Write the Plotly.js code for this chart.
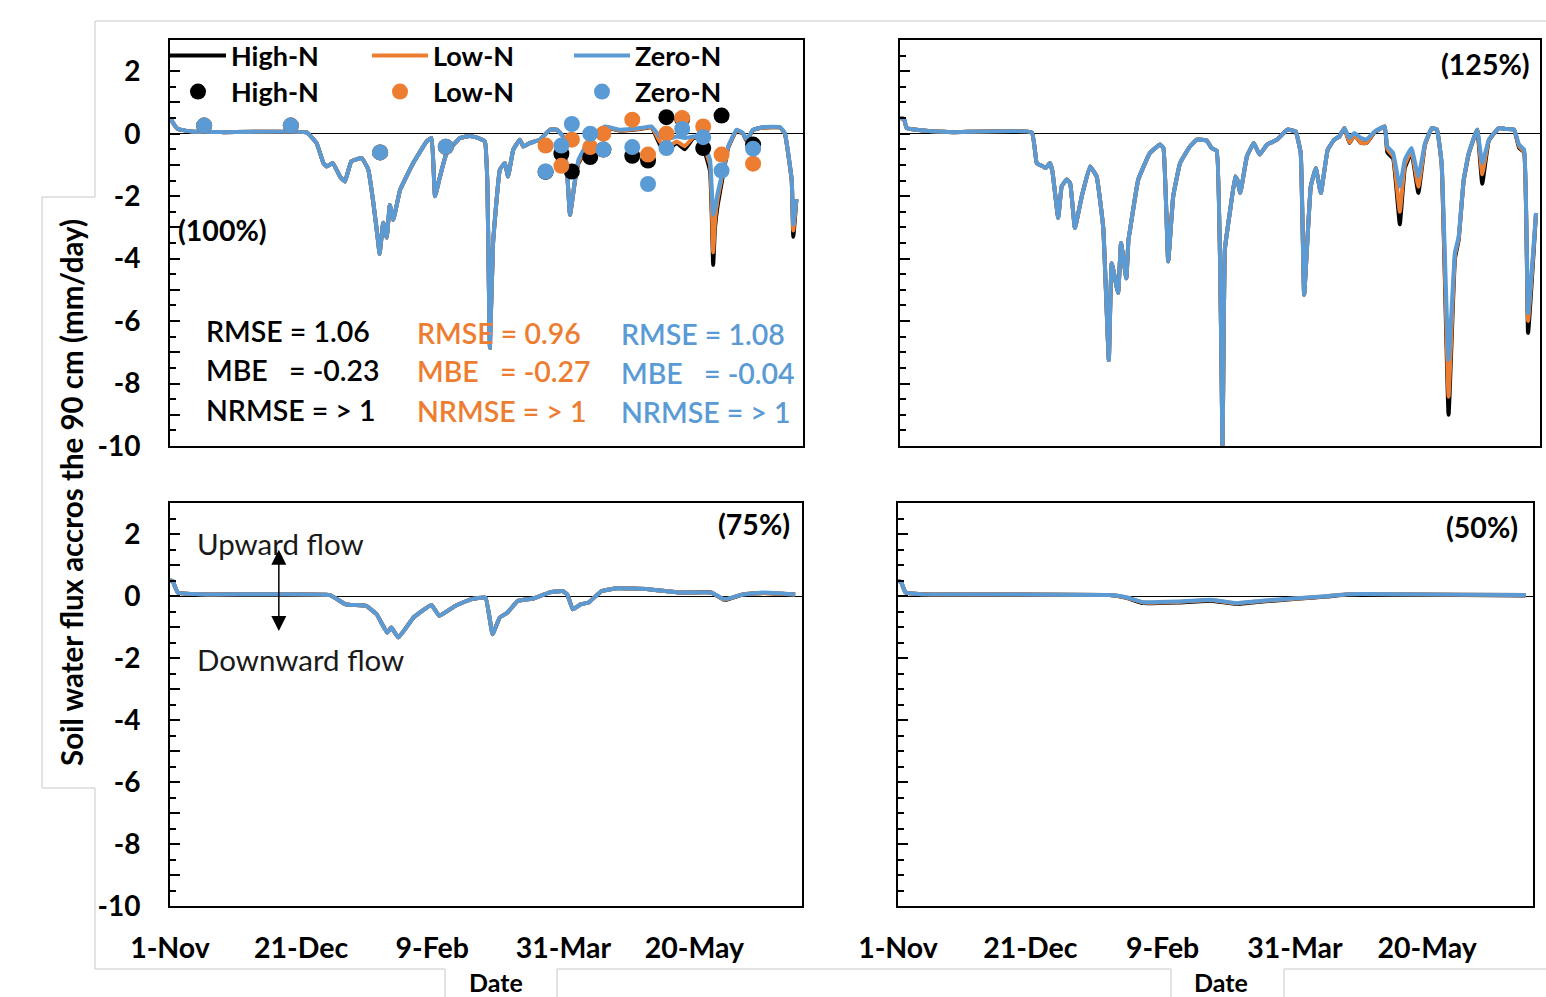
<!DOCTYPE html>
<html><head><meta charset="utf-8">
<script src="https://cdn.plot.ly/plotly-3.0.1.min.js"></script>
<style>html,body{margin:0;padding:0;background:#fff}</style>
</head><body>
<div id="chart" style="width:1546px;height:997px"></div>
<script>
// ---------- axis labels ----------
const tickDays = [0, 50, 100, 150, 200];
const tickLabels = ['1-Nov', '21-Dec', '9-Feb', '31-Mar', '20-May'];
const yTickVals = [-10, -9, -8, -7, -6, -5, -4, -3, -2, -1, 0, 1, 2];
const yTickText = ['-10', '', '-8', '', '-6', '', '-4', '', '-2', '', '0', '', '2'];
const seriesNames = ['High-N', 'Low-N', 'Zero-N'];

// ---------- 100% irrigation (days since 1-Nov) ----------
const days100 = [0, 1.5, 3, 8, 20, 52, 55.8, 58.4, 59.6, 62, 64.7, 66.6, 69, 73, 75.5, 77.4, 79.3, 79.8, 81.2, 82.5, 83.7, 85, 87.6, 92.6, 97.7, 99.6, 100.9, 102.8, 105.3, 110.4, 114.2, 117.4, 119.9, 120.8, 121.8, 123, 125.6, 127.5, 128.7, 130.7, 133.2, 134.5, 137, 140.8, 144.7, 147.2, 149.7, 151.3, 152.3, 154.2, 155.5, 158.6, 161.8, 165.6, 171.3, 178.9, 183.4, 186.5, 189, 192.9, 196, 199.2, 201.7, 205.6, 206.8, 207.5, 208.5, 210.6, 212.5, 215.7, 218.2, 219.5, 222, 225.8, 232.2, 234.1, 236.7, 237.3, 238.5];
const high100 = [0.5, 0.3, 0.15, 0.07, 0.05, 0.04, -0.3, -0.94, -1.05, -0.94, -1.37, -1.53, -0.89, -0.78, -1.15, -2.2, -3.5, -3.85, -2.85, -3.33, -2.28, -2.76, -1.8, -0.94, -0.25, -0.14, -2.0, -1.37, -0.62, -0.14, -0.07, -0.14, -0.25, -1.5, -6.85, -3.5, -1.15, -0.94, -1.37, -0.51, -0.19, -0.41, -0.3, -0.19, 0.13, 0.13, -0.09, -1.37, -2.6, -1.5, -0.95, -0.5, -0.05, 0.2, 0.1, 0.15, 0.2, -0.35, -0.55, -0.3, -0.5, -0.15, -0.12, -1.2, -4.2, -3.0, -2.3, -1.3, -0.45, 0.1, 0.0, -0.22, 0.12, 0.2, 0.2, 0.0, -1.5, -3.3, -2.1];
const low100 = [0.5, 0.3, 0.15, 0.07, 0.05, 0.04, -0.3, -0.94, -1.05, -0.94, -1.37, -1.53, -0.89, -0.78, -1.15, -2.2, -3.5, -3.85, -2.85, -3.33, -2.28, -2.76, -1.8, -0.94, -0.25, -0.14, -2.0, -1.37, -0.62, -0.14, -0.07, -0.14, -0.25, -1.5, -6.85, -3.5, -1.15, -0.94, -1.37, -0.51, -0.19, -0.41, -0.3, -0.19, 0.13, 0.13, -0.09, -1.37, -2.6, -1.5, -0.92, -0.45, -0.02, 0.21, 0.11, 0.16, 0.21, -0.25, -0.45, -0.25, -0.4, -0.12, -0.1, -1.0, -3.8, -2.8, -2.1, -1.2, -0.43, 0.11, 0.01, -0.2, 0.12, 0.2, 0.2, 0.01, -1.48, -3.1, -2.1];
const zero100 = [0.5, 0.3, 0.15, 0.07, 0.05, 0.04, -0.3, -0.94, -1.05, -0.94, -1.37, -1.53, -0.89, -0.78, -1.15, -2.2, -3.5, -3.85, -2.85, -3.33, -2.28, -2.76, -1.8, -0.94, -0.25, -0.14, -2.0, -1.37, -0.62, -0.14, -0.07, -0.14, -0.25, -1.5, -6.85, -3.5, -1.15, -0.94, -1.37, -0.51, -0.19, -0.41, -0.3, -0.19, 0.13, 0.13, -0.09, -1.37, -2.6, -1.47, -0.83, -0.35, 0.02, 0.23, 0.13, 0.18, 0.23, -0.09, -0.19, -0.09, -0.14, -0.09, -0.09, -0.83, -2.6, -2.4, -1.9, -1.15, -0.41, 0.13, 0.02, -0.19, 0.13, 0.21, 0.21, 0.02, -1.47, -2.9, -2.1];

// observed fluxes (100% irrigation)
const obsDays = [13, 46, 80, 105, 143, 149, 153, 160, 165, 176, 182, 189, 195, 203, 210, 222];
const obsHigh = [0.26, 0.26, -0.6, -0.42, -1.22, -0.64, -1.21, -0.75, -0.51, -0.71, -0.86, 0.53, 0.47, -0.46, 0.58, -0.35];
const obsLow = [0.26, 0.26, -0.6, -0.42, -0.38, -1.03, -0.19, -0.43, 0.0, 0.45, -0.67, 0.0, 0.5, 0.23, -0.67, -0.96];
const obsZero = [0.26, 0.26, -0.6, -0.42, -1.21, -0.38, 0.31, 0.0, -0.51, -0.43, -1.61, -0.46, 0.15, -0.11, -1.18, -0.48];

// ---------- 125% irrigation ----------
const days125 = [0, 1.5, 2.5, 8.7, 20, 49.7, 51.6, 54, 55, 56.6, 57.5, 59.7, 61, 62.9, 64.2, 66, 68.6, 71.7, 74.2, 76.7, 78.8, 79.9, 82.3, 83.4, 85.4, 86.2, 86.8, 89.9, 94.3, 98.1, 99.4, 101.2, 103.1, 105.7, 109.4, 112, 115.7, 117.6, 119.5, 121.7, 122.6, 124.6, 126.5, 127.2, 128.4, 130.9, 133.5, 135.7, 138.5, 142.3, 146.2, 149.3, 151.2, 152.5, 155, 156.9, 158.8, 161.4, 163.9, 165.8, 167.7, 169.6, 171.5, 174, 176, 179.1, 182.9, 183.9, 186.1, 188.6, 190.5, 193, 195.6, 198.1, 200.7, 202.6, 204.4, 207, 209.4, 210.8, 212.7, 214.6, 217.8, 219.7, 222.2, 226, 228.6, 231.7, 233.6, 235.5, 237, 240];
const high125 = [0.5, 0.47, 0.18, 0.1, 0.05, 0.04, -0.94, -1.05, -1.1, -0.94, -1.2, -2.7, -1.69, -1.47, -1.58, -3.02, -2.0, -1.05, -1.37, -3.02, -7.25, -4.15, -5.1, -3.5, -4.63, -3.4, -3.08, -1.47, -0.62, -0.35, -0.46, -4.09, -2.0, -0.94, -0.41, -0.19, -0.22, -0.46, -0.55, -10, -3.7, -2.44, -1.37, -1.45, -1.9, -0.73, -0.3, -0.67, -0.35, -0.19, 0.13, 0.07, -0.62, -5.16, -1.69, -1.1, -1.9, -0.51, -0.19, -0.09, 0.18, -0.3, -0.05, -0.3, -0.3, 0.05, 0.23, -0.6, -0.8, -2.9, -1.1, -0.6, -1.9, -0.35, 0.18, 0.13, -1.0, -9.0, -4.0, -3.4, -1.5, -0.65, 0.13, -1.6, -0.22, 0.18, 0.15, 0.13, -0.45, -0.6, -6.38, -2.54];
const low125 = [0.5, 0.47, 0.18, 0.1, 0.05, 0.04, -0.94, -1.05, -1.1, -0.94, -1.2, -2.7, -1.69, -1.47, -1.58, -3.02, -2.0, -1.05, -1.37, -3.02, -7.25, -4.15, -5.1, -3.5, -4.63, -3.4, -3.08, -1.47, -0.62, -0.35, -0.46, -4.09, -2.0, -0.94, -0.41, -0.19, -0.22, -0.46, -0.55, -10, -3.7, -2.44, -1.37, -1.45, -1.9, -0.73, -0.3, -0.67, -0.35, -0.19, 0.13, 0.07, -0.62, -5.16, -1.69, -1.1, -1.9, -0.51, -0.19, -0.09, 0.18, -0.28, -0.04, -0.3, -0.3, 0.06, 0.23, -0.5, -0.72, -2.5, -1.0, -0.55, -1.7, -0.35, 0.18, 0.13, -1.0, -8.42, -3.9, -3.35, -1.48, -0.63, 0.13, -1.3, -0.2, 0.18, 0.15, 0.13, -0.4, -0.58, -6.0, -2.54];
const zero125 = [0.5, 0.47, 0.18, 0.1, 0.05, 0.04, -0.94, -1.05, -1.1, -0.94, -1.2, -2.7, -1.69, -1.47, -1.58, -3.02, -2.0, -1.05, -1.37, -3.02, -7.25, -4.15, -5.1, -3.5, -4.63, -3.4, -3.08, -1.47, -0.62, -0.35, -0.46, -4.09, -2.0, -0.94, -0.41, -0.19, -0.22, -0.46, -0.55, -10, -3.7, -2.44, -1.37, -1.45, -1.9, -0.73, -0.3, -0.67, -0.35, -0.19, 0.13, 0.07, -0.62, -5.16, -1.69, -1.1, -1.9, -0.51, -0.19, -0.09, 0.18, -0.14, 0.02, -0.14, -0.19, 0.07, 0.23, -0.41, -0.62, -1.69, -0.83, -0.46, -1.37, -0.3, 0.18, 0.13, -0.94, -7.24, -3.8, -3.3, -1.47, -0.62, 0.13, -0.94, -0.19, 0.18, 0.15, 0.13, -0.35, -0.51, -5.75, -2.54];

// ---------- 75% irrigation ----------
const days75 = [0, 1, 3, 15, 61, 67, 74.8, 78.8, 82.8, 84.4, 87.1, 92.8, 99.7, 102.7, 108.7, 114.7, 120.3, 123, 125.7, 128.6, 132.6, 138.6, 144.6, 149.6, 151.5, 153.6, 156.6, 159.6, 164.6, 170.6, 182.5, 194.5, 206.5, 211.4, 218.4, 226.4, 238.4];
const high75 = [0.5, 0.48, 0.11, 0.05, 0.03, -0.27, -0.32, -0.59, -1.18, -1.02, -1.34, -0.7, -0.29, -0.64, -0.32, -0.11, -0.05, -1.23, -0.7, -0.54, -0.16, -0.08, 0.11, 0.16, 0.05, -0.43, -0.27, -0.21, 0.16, 0.25, 0.22, 0.11, 0.11, -0.13, 0.05, 0.1, 0.05];
const low75 = [0.5, 0.48, 0.11, 0.05, 0.03, -0.27, -0.32, -0.59, -1.18, -1.02, -1.34, -0.7, -0.29, -0.64, -0.32, -0.11, -0.05, -1.23, -0.7, -0.54, -0.16, -0.08, 0.11, 0.16, 0.05, -0.43, -0.27, -0.21, 0.16, 0.25, 0.22, 0.11, 0.11, -0.12, 0.05, 0.1, 0.05];
const zero75 = [0.5, 0.48, 0.11, 0.05, 0.03, -0.27, -0.32, -0.59, -1.18, -1.02, -1.34, -0.7, -0.29, -0.64, -0.32, -0.11, -0.05, -1.23, -0.7, -0.54, -0.16, -0.08, 0.11, 0.16, 0.05, -0.43, -0.27, -0.21, 0.16, 0.25, 0.22, 0.11, 0.11, -0.11, 0.05, 0.11, 0.05];

// ---------- 50% irrigation ----------
const days50 = [0, 1.2, 2.8, 9, 80, 86.3, 92.7, 105.6, 118.4, 128, 137.7, 150.5, 161.8, 169.8, 189, 237.2];
const high50 = [0.5, 0.44, 0.12, 0.06, 0.03, -0.06, -0.23, -0.21, -0.15, -0.26, -0.18, -0.09, -0.02, 0.05, 0.05, 0.02];
const low50 = [0.5, 0.44, 0.12, 0.06, 0.03, -0.05, -0.21, -0.19, -0.13, -0.24, -0.16, -0.08, -0.01, 0.06, 0.06, 0.03];
const zero50 = [0.5, 0.44, 0.12, 0.06, 0.03, -0.04, -0.2, -0.18, -0.12, -0.23, -0.15, -0.07, -0.01, 0.06, 0.06, 0.03];

// ---------- statistics ----------
const statRMSE = ['1.06', '0.96', '1.08'];
const statMBE = ['-0.23', '-0.27', '-0.04'];
const statNRMSE = ['> 1', '> 1', '> 1'];

// ---------- drawing ----------
const W = 1546, H = 997;
const px = v => v / W;
const py = v => 1 - v / H;
const COLORS = ['#000000', '#ED7D31', '#5B9BD5'];
const FONT = 'Lato, "Open Sans", sans-serif';

const panels = [
  {xa: 'x', ya: 'y', days: days100, vals: [high100, low100, zero100]},
  {xa: 'x2', ya: 'y2', days: days125, vals: [high125, low125, zero125]},
  {xa: 'x3', ya: 'y3', days: days75, vals: [high75, low75, zero75]},
  {xa: 'x4', ya: 'y4', days: days50, vals: [high50, low50, zero50]}
];

const traces = [];
panels.forEach((p, pi) => {
  p.vals.forEach((vals, si) => {
    traces.push({
      type: 'scatter', mode: 'lines', x: p.days, y: vals,
      xaxis: p.xa, yaxis: p.ya, name: seriesNames[si],
      line: {color: COLORS[si], width: 4, shape: 'spline', smoothing: 0.3},
      showlegend: pi === 0, legend: 'legend', hoverinfo: 'skip'
    });
  });
});
[obsHigh, obsLow, obsZero].forEach((vals, si) => {
  traces.push({
    type: 'scatter', mode: 'markers', x: obsDays, y: vals,
    xaxis: 'x', yaxis: 'y', name: seriesNames[si],
    marker: {color: COLORS[si], size: 16},
    showlegend: true, legend: 'legend2', hoverinfo: 'skip'
  });
});

function xAxis(dom, anchor, labels, maxDay) {
  return {
    domain: dom, anchor: anchor, range: [0, maxDay],
    tickmode: 'array', tickvals: tickDays, ticktext: tickLabels,
    showticklabels: labels, ticks: '', ticklabelstandoff: 16,
    tickfont: {family: FONT, size: 28.5, color: '#000', weight: 'bold'},
    showgrid: false, zeroline: false,
    showline: true, mirror: true, linecolor: '#000', linewidth: 2
  };
}
function yAxis(dom, anchor, labels) {
  return {
    domain: dom, anchor: anchor, range: [-10, 3],
    tickmode: 'array', tickvals: yTickVals, ticktext: yTickText,
    showticklabels: labels, ticks: 'inside', ticklen: 10, tickwidth: 2, tickcolor: '#000',
    minor: {dtick: 0.5, ticks: 'inside', ticklen: 6, tickwidth: 2, tickcolor: '#000'},
    ticklabelstandoff: 22,
    tickfont: {family: FONT, size: 28, color: '#000', weight: 'bold'},
    showgrid: false, zeroline: true, zerolinecolor: '#000', zerolinewidth: 1,
    showline: true, mirror: true, linecolor: '#000', linewidth: 2
  };
}

const topY = [py(446), py(40)];
const botY = [py(906), py(503)];

const outline = [
  [[1546, 21], [95, 21], [95, 197], [42, 197], [42, 788], [95, 788], [95, 969], [445, 969], [445, 997]],
  [[557, 997], [557, 969], [1171, 969], [1171, 997]],
  [[1284, 997], [1284, 969], [1546, 969]]
].map(pts => ({
  type: 'path', xref: 'paper', yref: 'paper', layer: 'below',
  path: pts.map((q, i) => (i ? 'L' : 'M') + px(q[0]) + ',' + py(q[1])).join(' '),
  line: {color: '#C8C8C8', width: 1}
}));

function txt(text, x, y, xanchor, color, size, weight, extra) {
  return Object.assign({
    text: text, xref: 'paper', yref: 'paper', x: px(x), y: py(y),
    xanchor: xanchor, yanchor: 'middle', showarrow: false, borderpad: 0,
    font: {family: FONT, size: size, color: color, weight: weight}
  }, extra || {});
}

const nb = '\u00A0';
const statCols = [205, 416, 620];
const statRows = [[331, 370, 410], [333, 371, 411], [334, 373, 412]];
const annotations = [];
for (let i = 0; i < 3; i++) {
  annotations.push(txt('RMSE = ' + statRMSE[i], statCols[i], statRows[i][0], 'left', COLORS[i], 28.5, 600));
  annotations.push(txt('MBE' + nb + nb + nb + '= ' + statMBE[i], statCols[i], statRows[i][1], 'left', COLORS[i], 28.5, 600));
  annotations.push(txt('NRMSE = ' + statNRMSE[i], statCols[i], statRows[i][2], 'left', COLORS[i], 28.5, 600));
}
annotations.push(txt('(100%)', 177, 230, 'left', '#000', 28.5, 'bold'));
annotations.push(txt('(125%)', 1531, 64, 'right', '#000', 28.5, 'bold'));
annotations.push(txt('(75%)', 791, 524, 'right', '#000', 28.5, 'bold'));
annotations.push(txt('(50%)', 1519, 527, 'right', '#000', 28.5, 'bold'));
annotations.push(txt('Upward flow', 196, 543, 'left', '#1a1a1a', 29.5, 'normal'));
annotations.push(txt('Downward flow', 196, 659, 'left', '#1a1a1a', 29.5, 'normal'));
annotations.push(txt('Soil water flux accros the 90 cm (mm/day)', 72, 493, 'center', '#000', 29.5, 'bold', {textangle: -90}));
annotations.push(txt('Date', 496, 982, 'center', '#000', 25, 'bold'));
annotations.push(txt('Date', 1221, 982, 'center', '#000', 25, 'bold'));
// double-headed flow arrow (data coordinates of the 75% panel)
annotations.push({
  xref: 'x3', yref: 'y3', axref: 'x3', ayref: 'y3',
  x: 41.5, y: -1.13, ax: 41.5, ay: 1.54, text: '',
  showarrow: true, arrowhead: 2, startarrowhead: 2, arrowside: 'end+start',
  arrowsize: 2, startarrowsize: 2, arrowwidth: 1.5, arrowcolor: '#000'
});

const legendBase = {
  orientation: 'h', xanchor: 'left', yanchor: 'middle',
  bgcolor: 'rgba(0,0,0,0)', borderwidth: 0,
  font: {family: FONT, size: 27, color: '#000', weight: 'bold'},
  itemwidth: 56, entrywidth: 131, entrywidthmode: 'pixels',
  itemclick: false, itemdoubleclick: false, traceorder: 'normal'
};

const layout = {
  width: W, height: H,
  margin: {l: 0, r: 0, t: 0, b: 0},
  paper_bgcolor: '#fff', plot_bgcolor: '#fff',
  showlegend: true,
  legend: Object.assign({}, legendBase, {x: px(165), y: py(56)}),
  legend2: Object.assign({}, legendBase, {x: px(165), y: py(92)}),
  xaxis: xAxis([px(170), px(803)], 'y', false, 241),
  yaxis: yAxis(topY, 'x', true),
  xaxis2: xAxis([px(900), px(1540)], 'y2', false, 241.5),
  yaxis2: yAxis(topY, 'x2', false),
  xaxis3: xAxis([px(170), px(802)], 'y3', true, 241),
  yaxis3: yAxis(botY, 'x3', true),
  xaxis4: xAxis([px(898), px(1533)], 'y4', true, 240),
  yaxis4: yAxis(botY, 'x4', false),
  shapes: outline,
  annotations: annotations
};

Plotly.newPlot('chart', traces, layout, {staticPlot: true, displayModeBar: false});
</script>
</body></html>
